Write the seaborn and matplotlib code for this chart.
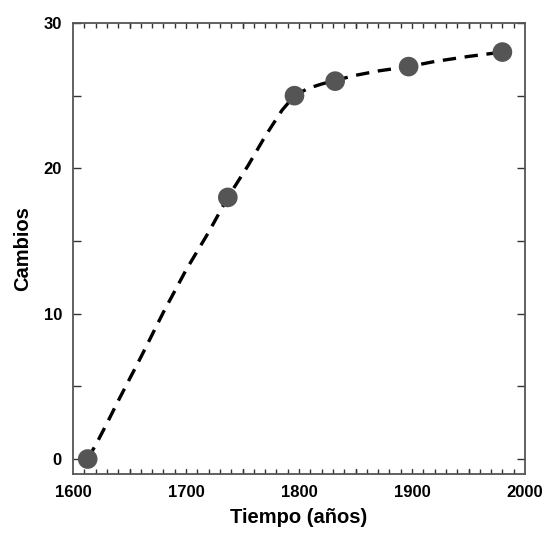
import numpy as np
import pandas as pd
import matplotlib
matplotlib.use("Agg")
import matplotlib.pyplot as plt
from matplotlib.ticker import MultipleLocator
import seaborn as sns

# observed points
years = [1613, 1737, 1796, 1832, 1897, 1980]
changes = [0, 18, 25, 26, 27, 28]

# dashed trend curve
curve_years = [1613, 1621, 1630, 1640, 1660, 1680, 1700, 1720, 1737, 1755, 1770,
               1785, 1796, 1808, 1820, 1832, 1850, 1870, 1897, 1920, 1950, 1980]
curve_vals = [0, 1.1, 2.45, 4.0, 7.0, 10.1, 13.0, 15.6, 18.0, 20.2, 22.2,
              24.0, 25.0, 25.5, 25.8, 26.05, 26.4, 26.7, 27.0, 27.35, 27.7, 28.0]

x_ticks = [1600, 1700, 1800, 1900, 2000]
y_ticks = [0, 10, 20, 30]

sns.set_theme(style="ticks")
plt.rcParams['font.family'] = ['Liberation Sans', 'DejaVu Sans']

pts = pd.DataFrame({'Tiempo': years, 'Cambios': changes})
curve = pd.DataFrame({'Tiempo': curve_years, 'Cambios': curve_vals})

fig = plt.figure(figsize=(5.48, 5.37), dpi=100)
ax = fig.add_axes([73 / 548, 63 / 537, 452 / 548, 451 / 537])

sns.lineplot(data=curve, x='Tiempo', y='Cambios', ax=ax, color='black',
             linewidth=2.4, linestyle=(0, (4, 2.6)), sort=True, zorder=2)
sns.scatterplot(data=pts, x='Tiempo', y='Cambios', ax=ax, color='#555555',
                s=200, edgecolor='none', zorder=3)

ax.set_xlim(1600, 2000)
ax.set_ylim(-1.03, 30)
ax.set_xticks(x_ticks)
ax.set_yticks(y_ticks)
ax.xaxis.set_minor_locator(MultipleLocator(10))
ax.yaxis.set_minor_locator(MultipleLocator(5))

for side in ['top', 'right', 'left', 'bottom']:
    ax.spines[side].set_visible(True)
    ax.spines[side].set_color('#555555')
    ax.spines[side].set_linewidth(1.3)

ax.tick_params(axis='both', which='both', direction='in', top=True, right=True,
               color='#333333', width=1.0, labelcolor='black')
ax.tick_params(axis='x', which='major', length=0, pad=8, labelsize=12)
ax.tick_params(axis='x', which='minor', length=3.5)
ax.tick_params(axis='y', which='major', length=6, pad=8, labelsize=12)
ax.tick_params(axis='y', which='minor', length=6)
# longer ticks every 50 years on x
for yr in range(1650, 2000, 50):
    ax.axvline(yr, ymin=0, ymax=0.012, color='#333333', lw=1.0)
    ax.axvline(yr, ymin=0.988, ymax=1, color='#333333', lw=1.0)

for lab in ax.get_xticklabels() + ax.get_yticklabels():
    lab.set_fontweight('bold')

ax.set_xlabel('Tiempo (años)', fontsize=14.5, fontweight='bold', labelpad=6,
              color='black')
ax.set_ylabel('Cambios', fontsize=14.5, fontweight='bold', labelpad=8,
              color='black')

fig.savefig('out.png', dpi=100)
